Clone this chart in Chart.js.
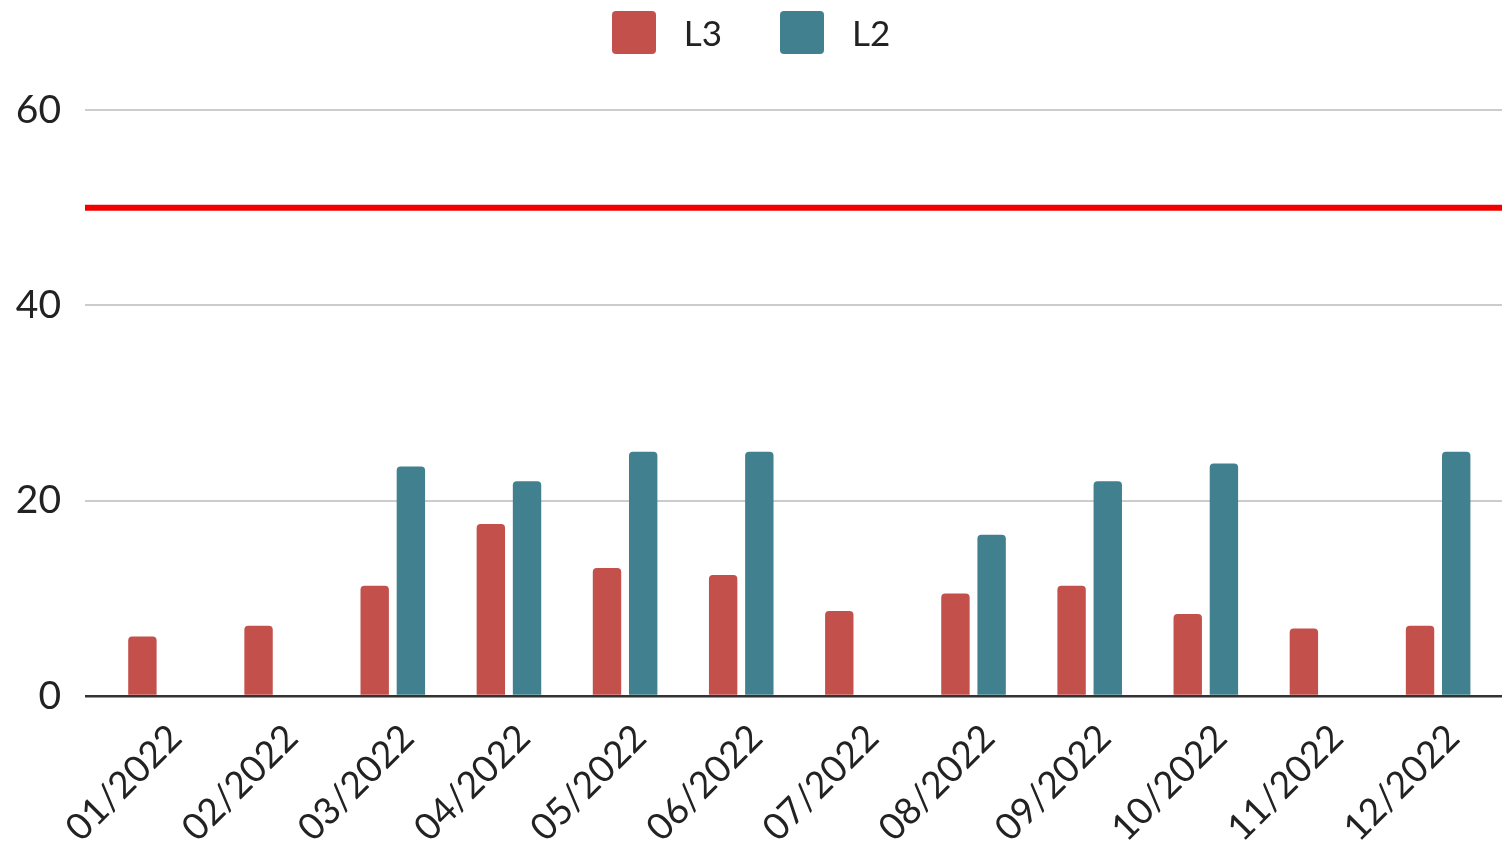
<!DOCTYPE html>
<html>
<head>
<meta charset="utf-8">
<title>L3 / L2</title>
<script src="https://cdn.jsdelivr.net/npm/chart.js@4.4.1/dist/chart.umd.min.js"></script>
<style>
  html, body { margin: 0; padding: 0; background: #fff; }
  #wrap { position: relative; width: 1502px; height: 846px; }
  #legend {
    position: absolute; top: 10px; left: 0; width: 100%; height: 44px;
    display: flex; justify-content: center; align-items: center;
    font-family: Lato, sans-serif; font-size: 35px; color: #222;
  }
  .item { display: flex; align-items: center; margin: 0 29px; }
  .box { width: 44px; height: 43px; border-radius: 4px; margin-right: 28px; }
</style>
</head>
<body>
<div id="wrap">
  <div id="legend"></div>
  <canvas id="chart"></canvas>
</div>
<script>
// months
const months = ['01/2022', '02/2022', '03/2022', '04/2022', '05/2022', '06/2022',
                '07/2022', '08/2022', '09/2022', '10/2022', '11/2022', '12/2022'];

// series values per month (null = no entry)
const l3Values = [6.1, 7.2, 11.3, 17.6, 13.1, 12.4, 8.7, 10.5, 11.3, 8.4, 6.9, 7.2];
const l2Values = [null, null, 23.5, 22, 25, 25, null, 16.5, 22, 23.8, null, 25];

// target value, drawn across the whole month range
const target = 50;

// month axis runs a bit past the first and last month
const xRange = [-0.65, 11.55];

// y axis ticks
const yTicks = [0, 20, 40, 60];

const seriesNames = ['L3', 'L2'];
const seriesColors = ['#c4504c', '#41808e'];

// legend
const legend = document.getElementById('legend');
seriesNames.forEach(function (name, i) {
    const item = document.createElement('div');
    item.className = 'item';
    const box = document.createElement('div');
    box.className = 'box';
    box.style.background = seriesColors[i];
    const label = document.createElement('span');
    label.textContent = name;
    item.appendChild(box);
    item.appendChild(label);
    legend.appendChild(item);
});

function toPoints(values) {
    return values.map(function (v, i) { return { x: i, y: v }; });
}

const gridColor = function (c) {
    return c.tick && c.tick.value === 0 ? '#333333' : '#cccccc';
};
const gridWidth = function (c) {
    return c.tick && c.tick.value === 0 ? 2.5 : 2;
};

const ctx = document.getElementById('chart').getContext('2d');

new Chart(ctx, {
    type: 'bar',
    data: {
        datasets: [
            {
                label: seriesNames[0],
                data: toPoints(l3Values),
                backgroundColor: seriesColors[0],
                borderRadius: 4,
                barPercentage: 0.785,
                categoryPercentage: 0.623,
                order: 2
            },
            {
                label: seriesNames[1],
                data: toPoints(l2Values),
                backgroundColor: seriesColors[1],
                borderRadius: 4,
                barPercentage: 0.785,
                categoryPercentage: 0.623,
                order: 2
            },
            {
                type: 'line',
                label: 'Target',
                data: xRange.map(function (x) { return { x: x, y: target }; }),
                borderColor: 'rgb(242, 0, 0)',
                borderWidth: 6,
                pointRadius: 0,
                fill: false,
                order: 1
            }
        ]
    },
    options: {
        responsive: true,
        maintainAspectRatio: false,
        animation: false,
        layout: { padding: { top: 110, left: 0, right: 0, bottom: 0 } },
        plugins: {
            legend: { display: false },
            tooltip: { enabled: false }
        },
        scales: {
            x: {
                type: 'linear',
                offset: false,
                min: xRange[0],
                max: xRange[1],
                afterBuildTicks: function (scale) {
                    scale.ticks = months.map(function (m, i) { return { value: i }; });
                },
                grid: { display: false, drawTicks: false },
                border: { display: false },
                ticks: {
                    autoSkip: false,
                    minRotation: 45,
                    maxRotation: 45,
                    padding: 20,
                    labelOffset: 15,
                    color: '#222',
                    font: { family: 'Lato', size: 37 },
                    callback: function (v) { return months[v]; }
                },
                afterFit: function (scale) { scale.height = 150; }
            },
            y: {
                min: 0,
                max: 60,
                afterBuildTicks: function (scale) {
                    scale.ticks = yTicks.map(function (v) { return { value: v }; });
                },
                grid: { color: gridColor, lineWidth: gridWidth, drawTicks: false },
                border: { display: false },
                ticks: {
                    padding: 24,
                    color: '#222',
                    font: { family: 'Lato', size: 39 }
                },
                afterFit: function (scale) { scale.width = 85; }
            }
        }
    }
});
</script>
</body>
</html>
